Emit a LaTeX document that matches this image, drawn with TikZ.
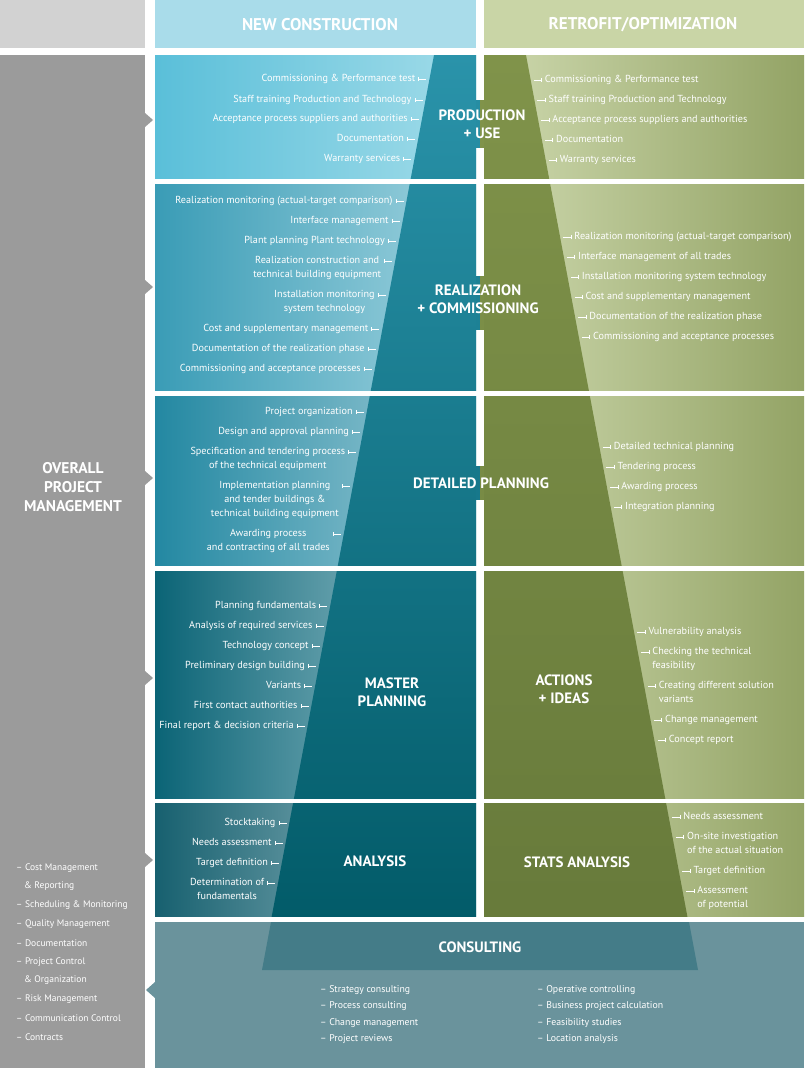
\documentclass[tikz,border=0pt]{standalone}
\usepackage{fontspec}
\setmainfont{PT Sans}
\usetikzlibrary{arrows.meta}
\definecolor{gcol}{HTML}{9B9B9B}
\definecolor{gtop}{HTML}{D2D2D2}
\definecolor{hblue}{HTML}{A9DCEA}
\definecolor{hgreen}{HTML}{C9D5A6}
\definecolor{dkbt}{HTML}{2A93AA}
\definecolor{dkbb}{HTML}{005865}
\definecolor{dkgt}{HTML}{80934A}
\definecolor{dkgb}{HTML}{66793A}
\definecolor{consbg}{HTML}{6A939C}
\definecolor{constr}{HTML}{447C88}
\tikzset{
 litem/.style={font=\fontsize{10.2}{14}\selectfont, text=white, anchor=north east, inner sep=0pt, align=center},
 ritem/.style={font=\fontsize{10.2}{14}\selectfont, text=white, anchor=north west, inner sep=0pt, align=left},
 tick/.style={white, line width=0.6pt, {Bar[width=4pt,line width=0.6pt]}-},
 ttl/.style={font=\fontsize{15}{18}\selectfont\bfseries, text=white, align=center, inner sep=1pt},
 hdr/.style={font=\fontsize{17}{20}\selectfont\bfseries, text=white},
 glist/.style={font=\fontsize{9.5}{10}\selectfont, text=white, anchor=west, inner sep=0pt},
 clist/.style={font=\fontsize{9.8}{10}\selectfont, text=white, anchor=west, inner sep=0pt},
}
\newcommand\LI[3]{\pgfmathsetmacro\xx{434-0.188*(#2-55)-14}%
 \node[litem] (#1) at (\xx,#2-4.5) {#3};
 \draw[tick] ([xshift=3pt,yshift=-4.5pt]#1.north east) -- ++(8,0);}
\newcommand\RI[3]{\pgfmathsetmacro\xx{526+0.188*(#2-55)+14}%
 \node[ritem] (#1) at (\xx,#2-4.5) {#3};
 \draw[tick] ([xshift=-3pt,yshift=-4.5pt]#1.north west) -- ++(-8,0);}
\newcommand\PYR{(434,55) -- (526,55) -- (697,968) -- (262,968) -- cycle}
\begin{document}
\begin{tikzpicture}[x=1pt,y=-1pt]
\useasboundingbox (0,0) rectangle (804,1068);
\fill[white] (0,0) rectangle (804,1068);
% header
\fill[gtop] (0,0) rectangle (145,48);
\fill[hblue] (155,0) rectangle (476,48);
\fill[hgreen] (484,0) rectangle (804,48);
\node[hdr] (hnc) at (320,25) {NEW CONSTRUCTION};
\node[hdr] (hro) at (643,25) {RETROFIT/OPTIMIZATION};
% gray column
\fill[gcol] (0,55) rectangle (145,1068);
\foreach \cy in {120,287,478,678,860} \fill[gcol] (145,\cy-7) -- (153,\cy) -- (145,\cy+7) -- cycle;
% row panels
\foreach \ya/\yb/\cl/\cr in {55/178/5ABFD9/A2DCE9, 184/390/3A9CB6/A0D3DF, 396/565/2388A2/9ECCD7, 571/798/0B6476/A0C8D0, 803/916/17606F/A8CAD1}{
 \definecolor{cl}{HTML}{\cl}\definecolor{cr}{HTML}{\cr}
 \shade[left color=cl, right color=cr] (155,\ya) rectangle (476,\yb);
 \shade[left color=hgreen!90!white, right color=dkgt!85!white] (484,\ya) rectangle (804,\yb);
 \begin{scope}
  \clip (155,\ya) rectangle (476,\yb);
  \shade[top color=dkbt, bottom color=dkbb] \PYR;
 \end{scope}
 \begin{scope}
  \clip (484,\ya) rectangle (804,\yb);
  \shade[top color=dkgt, bottom color=dkgb] \PYR;
 \end{scope}
}
% gap fill behind spanning titles
\fill[dkbt!90!dkbb] (476,100) rectangle (480,148);
\fill[dkgt] (480,100) rectangle (484,148);
\fill[dkbt!70!dkbb] (476,276) rectangle (480,330);
\fill[dkgt!80!dkgb] (480,276) rectangle (484,330);
\fill[dkbt!55!dkbb] (476,466) rectangle (480,500);
\fill[dkgt!70!dkgb] (480,466) rectangle (484,500);
% consulting
\fill[consbg] (155,922) rectangle (804,1068);
\fill[consbg] (155,982) -- (146,990) -- (155,998) -- cycle;
\fill[constr] (271,922) -- (689,922) -- (698,970) -- (262,970) -- cycle;
% titles
\node[ttl] (tpu) at (482,124) {PRODUCTION\\+ USE};
\node[ttl] (trc) at (478,299) {REALIZATION\\+ COMMISSIONING};
\node[ttl] (tdp) at (481,483) {DETAILED PLANNING};
\node[ttl] (tmp) at (392,692) {MASTER\\PLANNING};
\node[ttl] (tai) at (564,689) {ACTIONS\\+ IDEAS};
\node[ttl] (tan) at (375,861) {ANALYSIS};
\node[ttl] (tsa) at (577,862) {STATS ANALYSIS};
\node[ttl] (tco) at (480,947) {CONSULTING};
\node[ttl, font=\fontsize{15.5}{19}\selectfont\bfseries] (topm) at (73,487) {OVERALL\\PROJECT\\MANAGEMENT};
% production
\LI{pl1}{79}{Commissioning \& Performance test}
\LI{pl2}{100}{Staff training Production and Technology}
\LI{pl3}{119}{Acceptance process suppliers and authorities}
\LI{pl4}{139}{Documentation}
\LI{pl5}{159}{Warranty services}
\RI{pr1}{80}{Commissioning \& Performance test}
\RI{pr2}{100}{Staff training Production and Technology}
\RI{pr3}{120}{Acceptance process suppliers and authorities}
\RI{pr4}{140}{Documentation}
\RI{pr5}{160}{Warranty services}
% realization
\LI{rl1}{201}{Realization monitoring (actual-target comparison)}
\LI{rl2}{221}{Interface management}
\LI{rl3}{241}{Plant planning Plant technology}
\LI{rl4}{261}{Realization construction and\\technical building equipment}
\LI{rl5}{295}{Installation monitoring\\system technology}
\LI{rl6}{329}{Cost and supplementary management}
\LI{rl7}{349}{Documentation of the realization phase}
\LI{rl8}{369}{Commissioning and acceptance processes}
\RI{rr1}{237}{Realization monitoring (actual-target comparison)}
\RI{rr2}{257}{Interface management of all trades}
\RI{rr3}{277}{Installation monitoring system technology}
\RI{rr4}{297}{Cost and supplementary management}
\RI{rr5}{317}{Documentation of the realization phase}
\RI{rr6}{337}{Commissioning and acceptance processes}
% detailed planning
\LI{dl1}{412}{Project organization}
\LI{dl2}{432}{Design and approval planning}
\LI{dl3}{452}{Specification and tendering process\\of the technical equipment}
\LI{dl4}{486}{Implementation planning\\and tender buildings \&\\technical building equipment}
\LI{dl5}{534}{Awarding process\\and contracting of all trades}
\RI{dr1}{447}{Detailed technical planning}
\RI{dr2}{467}{Tendering process}
\RI{dr3}{487}{Awarding process}
\RI{dr4}{507}{Integration planning}
% master planning
\LI{ml1}{606}{Planning fundamentals}
\LI{ml2}{626}{Analysis of required services}
\LI{ml3}{646}{Technology concept}
\LI{ml4}{666}{Preliminary design building}
\LI{ml5}{686}{Variants}
\LI{ml6}{706}{First contact authorities}
\LI{ml7}{726}{Final report \& decision criteria}
\RI{mr1}{632}{Vulnerability analysis}
\RI{mr2}{652}{Checking the technical\\feasibility}
\RI{mr3}{686}{Creating different solution\\variants}
\RI{mr4}{720}{Change management}
\RI{mr5}{740}{Concept report}
% analysis
\LI{al1}{823}{Stocktaking}
\LI{al2}{843}{Needs assessment}
\LI{al3}{863}{Target definition}
\LI{al4}{883}{Determination of\\fundamentals}
\RI{ar1}{817}{Needs assessment}
\RI{ar2}{837}{On-site investigation\\of the actual situation}
\RI{ar3}{871}{Target definition}
\RI{ar4}{891}{Assessment\\of potential}
% consulting lists
\node[clist] (c1) at (320,990) {-- Strategy consulting};
\node[clist] (c2) at (320,1006) {-- Process consulting};
\node[clist] (c3) at (320,1023) {-- Change management};
\node[clist] (c4) at (320,1039) {-- Project reviews};
\node[clist] (c5) at (537,990) {-- Operative controlling};
\node[clist] (c6) at (537,1006) {-- Business project calculation};
\node[clist] (c7) at (537,1023) {-- Feasibility studies};
\node[clist] (c8) at (537,1039) {-- Location analysis};
% gray list
\node[glist] (g1) at (16,868) {-- Cost Management};
\node[glist] (g2) at (24,886) {\& Reporting};
\node[glist] (g3) at (16,905) {-- Scheduling \& Monitoring};
\node[glist] (g4) at (16,924) {-- Quality Management};
\node[glist] (g5) at (16,943) {-- Documentation};
\node[glist] (g6) at (16,962) {-- Project Control};
\node[glist] (g7) at (24,980) {\& Organization};
\node[glist] (g8) at (16,999) {-- Risk Management};
\node[glist] (g9) at (16,1018) {-- Communication Control};
\node[glist] (g10) at (16,1037) {-- Contracts};
\end{tikzpicture}
\end{document}
